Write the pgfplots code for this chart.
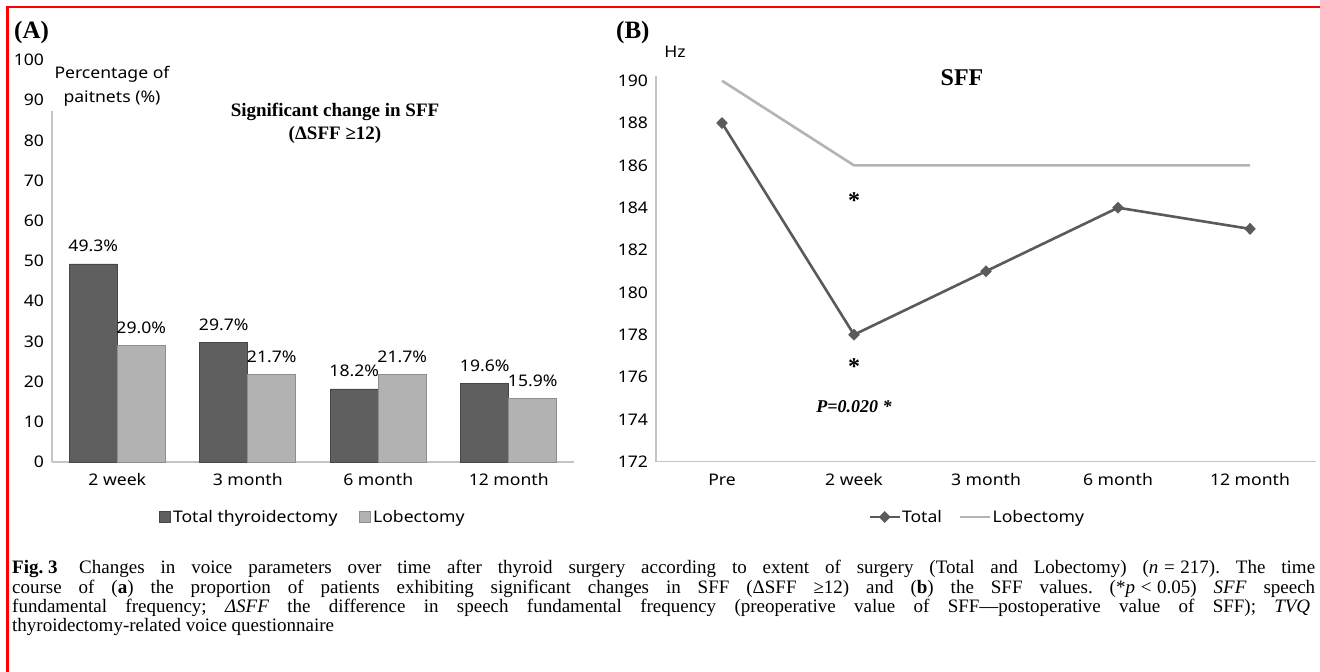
\documentclass[border=0pt]{standalone}
\usepackage{pgfplots}
\pgfplotsset{compat=1.18}
\usepackage{fontspec}
\setmainfont{Liberation Serif}
\newfontfamily\chartfam[FakeStretch=1.1]{Noto Sans}
\newcommand\cf{\chartfam\fontsize{16pt}{19pt}\selectfont}
\definecolor{darkbar}{HTML}{5F5F5F}
\definecolor{darkbarE}{HTML}{464646}
\definecolor{lightbar}{HTML}{B2B2B2}
\definecolor{lightbarE}{HTML}{8E8E8E}
\definecolor{axgray}{HTML}{C4C4C4}
\definecolor{totline}{HTML}{5A5A5A}
\definecolor{lobline}{HTML}{B4B4B4}
\pgfplotsset{
  sqlegend/.style={legend image code/.code={\draw[##1] (0pt,-5.5pt) rectangle (11pt,5.5pt);}},
  linlegend/.style={legend image code/.code={\draw[mark repeat=2,mark phase=2,##1] plot coordinates {(0pt,0pt) (15pt,0pt) (30pt,0pt)};}},
  cleanaxis/.style={
    axis lines*=left,
    axis line style={draw=axgray, line width=1.5pt, -},
    every outer x axis line/.append style={-},
    every outer y axis line/.append style={-},
    x axis line style={-}, y axis line style={-},
    major tick length=0pt,
    /pgf/number format/assume math mode=true,
    ticklabel style={font=\cf},
    xticklabel style={anchor=base, yshift=-24pt},
    yticklabel style={anchor=east, xshift=-4.5pt},
    clip=false,
  },
}
\begin{document}
\frenchspacing
\begin{tikzpicture}
\path[use as bounding box] (0pt,0pt) rectangle (1320pt,672pt);
\fill[white] (0pt,0pt) rectangle (1320pt,672pt);
\draw[red, line width=2.2pt] (7.5pt,-2pt) -- (7.5pt,664.7pt) -- (1322pt,664.7pt);

% ---------------- Panel A ----------------
\begin{axis}[
  cleanaxis,
  at={(52pt,210pt)}, anchor=south west,
  scale only axis, width=522pt, height=402pt,
  xmin=-0.5, xmax=3.5, ymin=0, ymax=100,
  ybar, bar width=48pt,
  xtick={0,1,2,3}, xticklabels={2 week,3 month,6 month,12 month},
  ytick={0,10,...,100},
  point meta=explicit symbolic,
  nodes near coords,
  nodes near coords style={font=\cf, anchor=base, yshift=12pt, inner sep=0pt},
  legend columns=2,
  legend style={at={(0.5,-0.137)}, anchor=center, draw=none, font=\cf,
     nodes={inner sep=2pt},
     /tikz/every even column/.append style={column sep=20pt}},
  legend cell align=left,
]
\addplot[fill=darkbar, draw=darkbarE, line width=0.6pt, bar shift=-24pt, sqlegend]
  coordinates {(0,49.3)[49.3\%] (1,29.7)[29.7\%] (2,18.2)[18.2\%] (3,19.6)[19.6\%]};
\addplot[fill=lightbar, draw=lightbarE, line width=0.6pt, bar shift=24pt, sqlegend]
  coordinates {(0,29.0)[29.0\%] (1,21.7)[21.7\%] (2,21.7)[21.7\%] (3,15.9)[15.9\%]};
\legend{Total thyroidectomy, Lobectomy}
\end{axis}

\fill[white] (49pt,561pt) rectangle (56pt,616pt);
\node[font=\cf, anchor=base] at (112pt,593pt) {Percentage of};
\node[font=\cf, anchor=base] at (112pt,569pt) {paitnets (\%)};
\node[font=\bfseries\fontsize{25pt}{25pt}\selectfont, anchor=west, inner sep=0pt] at (14pt,640pt) {(A)};
\node[font=\bfseries\fontsize{19pt}{23pt}\selectfont, anchor=base] at (335pt,555pt) {Significant change in SFF};
\node[font=\bfseries\fontsize{19pt}{23pt}\selectfont, anchor=base] at (335pt,532pt) {(ΔSFF ≥12)};

% ---------------- Panel B ----------------
\begin{axis}[
  cleanaxis,
  at={(656pt,210.3pt)}, anchor=south west,
  scale only axis, width=660pt, height=385.2pt,
  xmin=-0.5, xmax=4.5, ymin=172, ymax=190.2,
  xtick={0,1,2,3,4}, xticklabels={Pre,2 week,3 month,6 month,12 month},
  ytick={172,174,...,190},
  legend columns=2,
  legend style={at={(0.486,-0.1436)}, anchor=center, draw=none, font=\cf,
     nodes={inner sep=1pt},
     /tikz/every even column/.append style={column sep=16pt}},
  legend cell align=left,
]
\addplot[totline, line width=2.6pt, line join=round, mark=diamond*, mark size=5.5pt,
  mark options={fill=totline, draw=totline, line width=0.6pt, xscale=1.3}, linlegend]
  coordinates {(0,188) (1,178) (2,181) (3,184) (4,183)};
\addplot[lobline, line width=2.6pt, line join=round, no marks, linlegend]
  coordinates {(0,190) (1,186) (2,186) (3,186) (4,186)};
\legend{Total, Lobectomy}
\node[font=\bfseries\fontsize{24pt}{24pt}\selectfont, anchor=base, yshift=-11.2pt] at (axis cs:1,184.5) {*};
\node[font=\bfseries\fontsize{24pt}{24pt}\selectfont, anchor=base, yshift=-11.2pt] at (axis cs:1,176.66) {*};
\node[font=\bfseries\itshape\fontsize{18pt}{18pt}\selectfont, anchor=center] at (axis cs:1,174.58) {P=0.020 *};
\end{axis}

\node[font=\bfseries\fontsize{25pt}{25pt}\selectfont, anchor=west, inner sep=0pt] at (616pt,640pt) {(B)};
\node[font=\cf, anchor=base] at (675pt,614pt) {Hz};
\node[font=\bfseries\fontsize{24pt}{24pt}\selectfont, anchor=base] at (962pt,586.7pt) {SFF};

% ---------------- Caption ----------------
\begin{scope}[every node/.style={anchor=base west, inner sep=0pt, font=\fontsize{19pt}{20pt}\selectfont}]
\node at (12pt,98pt) {\makebox[1303pt][s]{\textbf{Fig.\hspace{0.25em}3}\hspace{0.3em} Changes in voice parameters over time after thyroid surgery according to extent of surgery (Total and Lobectomy) (\textit{n}\hspace{0.3em}=\hspace{0.3em}217). The time}};
\node at (12pt,78.7pt) {\makebox[1303pt][s]{course of (\textbf{a}) the proportion of patients exhibiting significant changes in SFF (ΔSFF ≥12) and (\textbf{b}) the SFF values. (*\textit{p}\hspace{0.3em}<\hspace{0.3em}0.05) \textit{SFF} speech}};
\node at (12pt,59.3pt) {\makebox[1298pt][s]{fundamental frequency; \textit{ΔSFF} the difference in speech fundamental frequency (preoperative value of SFF—postoperative value of SFF); \textit{TVQ}}};
\node at (12pt,40pt) {thyroidectomy-related voice questionnaire};
\end{scope}
\end{tikzpicture}
\end{document}
